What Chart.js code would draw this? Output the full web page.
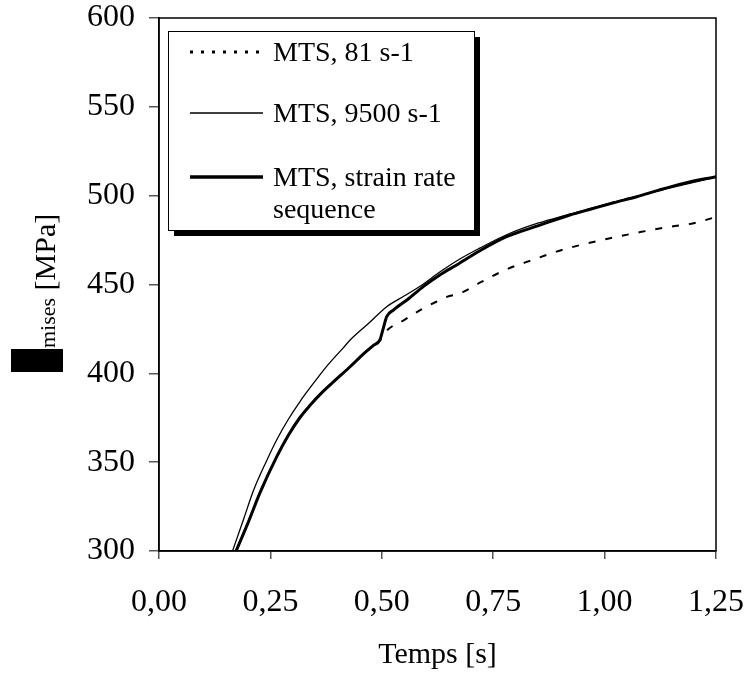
<!DOCTYPE html>
<html>
<head>
<meta charset="utf-8">
<script src="https://cdn.jsdelivr.net/npm/chart.js@4.4.0/dist/chart.umd.min.js"></script>
<style>
    html, body { margin: 0; padding: 0; background: #fff; }
</style>
</head>
<body>
<canvas id="chart" width="746" height="673"></canvas>
<script>
// Temps [s] och spänning [MPa] för varje kurva
const t81 = [0.173, 0.2, 0.227, 0.264, 0.29, 0.316, 0.339, 0.365, 0.395, 0.43, 0.459, 0.48, 0.496, 0.511, 0.55, 0.586, 0.62, 0.646, 0.676, 0.72, 0.78, 0.84, 0.892, 0.945, 1.012, 1.08, 1.147, 1.2, 1.25];
const s81 = [300, 316, 333, 353, 365, 375, 382, 389, 396, 404, 411, 415.5, 418.5, 424, 430, 435.6, 440, 443, 445, 451, 458.5, 464, 468.5, 472.2, 476, 479.5, 482.5, 484.5, 488];

const t9500 = [0.165, 0.19, 0.212, 0.24, 0.264, 0.29, 0.316, 0.35, 0.38, 0.414, 0.43, 0.47, 0.511, 0.55, 0.586, 0.63, 0.676, 0.72, 0.78, 0.85, 0.92, 1.0, 1.07, 1.15, 1.25];
const s9500 = [300, 318, 334, 350, 362.5, 374, 384, 395.5, 405, 414.5, 419, 428, 437.5, 443.5, 449, 457, 464.5, 470.5, 478, 484.5, 489.5, 495, 499.5, 504.5, 510.5];

const tSeq = [0.173, 0.2, 0.227, 0.264, 0.29, 0.316, 0.339, 0.365, 0.395, 0.43, 0.459, 0.48, 0.496, 0.503, 0.511, 0.526, 0.56, 0.593, 0.631, 0.668, 0.72, 0.78, 0.85, 0.922, 0.97, 1.02, 1.072, 1.12, 1.177, 1.25];
const sSeq = [300, 316, 333, 353, 365, 375, 382, 389, 396, 404, 411, 415.5, 419, 425, 431.9, 435.6, 442, 448.8, 455.5, 461, 469, 476.9, 483, 489.1, 492.5, 496, 499.4, 503, 506.9, 510.7];

const seriesLabels = ['MTS, 81 s-1', 'MTS, 9500 s-1', ['MTS, strain rate', 'sequence']];
const xTicks = [0, 0.25, 0.5, 0.75, 1.0, 1.25];
const yTicks = [300, 350, 400, 450, 500, 550, 600];

const serif = "'Liberation Serif', 'Times New Roman', serif";

function toPoints(xs, ys) {
    return xs.map((x, i) => ({ x: x, y: ys[i] }));
}

// Ram runt ritytan (topp och höger kant)
const frame = {
    id: 'frame',
    afterDatasetsDraw(chart) {
        const { ctx, chartArea: a } = chart;
        ctx.save();
        ctx.strokeStyle = '#000';
        ctx.lineWidth = 1.5;
        ctx.strokeRect(a.left, a.top, a.right - a.left, a.bottom - a.top);
        ctx.restore();
    }
};

// Y-axelns titel: sigma (svart ruta), "mises" nedsänkt, sen [MPa]
const yTitle = {
    id: 'yTitle',
    afterDraw(chart) {
        const ctx = chart.ctx;
        ctx.save();
        ctx.fillStyle = '#000';
        ctx.fillRect(11, 349, 52, 23);
        ctx.translate(55, 348);
        ctx.rotate(-Math.PI / 2);
        ctx.textBaseline = 'alphabetic';
        ctx.textAlign = 'left';
        ctx.font = '22px ' + serif;
        ctx.fillText('mises', 0, 0);
        let w = ctx.measureText('mises ').width;
        ctx.font = '30px ' + serif;
        ctx.fillText('[MPa]', w + 2, 0);
        ctx.restore();
    }
};

// Egen legend med skugga
const legendBox = {
    id: 'legendBox',
    afterDraw(chart) {
        const ctx = chart.ctx;
        const x = 168, y = 31, w = 306, h = 199;
        ctx.save();
        ctx.fillStyle = '#000';
        ctx.fillRect(x + 6, y + 6, w, h);
        ctx.fillStyle = '#fff';
        ctx.fillRect(x, y, w, h);
        ctx.strokeStyle = '#000';
        ctx.lineWidth = 1;
        ctx.strokeRect(x + 0.5, y + 0.5, w, h);

        const rows = [52, 113, 177];
        ctx.font = '28px ' + serif;
        chart.data.datasets.forEach((ds, i) => {
            ctx.beginPath();
            ctx.strokeStyle = '#000';
            ctx.lineWidth = i === 2 ? 3.5 : (i === 0 ? 3 : 1.3);
            ctx.setLineDash(i === 0 ? [3, 8] : []);
            ctx.moveTo(190, rows[i]);
            ctx.lineTo(263, rows[i]);
            ctx.stroke();
            ctx.setLineDash([]);
            ctx.fillStyle = '#000';
            ctx.textBaseline = 'middle';
            [].concat(ds.label).forEach((s, j) => {
                ctx.fillText(s, 273, rows[i] + 2 + j * 32);
            });
        });
        ctx.restore();
    }
};

new Chart(document.getElementById('chart'), {
    type: 'line',
    data: {
        datasets: [
            {
                label: seriesLabels[0],
                data: toPoints(t81, s81),
                borderColor: '#000',
                borderWidth: 2,
                borderDash: [7, 10],
                pointRadius: 0,
                cubicInterpolationMode: 'monotone'
            },
            {
                label: seriesLabels[1],
                data: toPoints(t9500, s9500),
                borderColor: '#000',
                borderWidth: 1.3,
                pointRadius: 0,
                cubicInterpolationMode: 'monotone'
            },
            {
                label: seriesLabels[2],
                data: toPoints(tSeq, sSeq),
                borderColor: '#000',
                borderWidth: 3,
                pointRadius: 0,
                cubicInterpolationMode: 'monotone'
            }
        ]
    },
    options: {
        responsive: false,
        animation: false,
        layout: { autoPadding: false, padding: { left: 0, right: 30, top: 18, bottom: 0 } },
        plugins: {
            legend: { display: false },
            tooltip: { enabled: false }
        },
        scales: {
            x: {
                type: 'linear',
                min: 0,
                max: 1.25,
                afterBuildTicks: axis => { axis.ticks = xTicks.map(v => ({ value: v })); },
                afterFit: axis => {
                    axis.height = 122;
                    axis.paddingLeft = 0;
                    axis.paddingRight = 0;
                },
                grid: { drawOnChartArea: false, drawTicks: true, tickLength: 8, color: '#555', lineWidth: 1.5 },
                border: { display: true, color: '#000', width: 1.5 },
                ticks: {
                    color: '#000',
                    padding: 24,
                    maxRotation: 0,
                    font: { family: serif, size: 32 },
                    callback: v => v.toFixed(2).replace('.', ',')
                },
                title: {
                    display: true,
                    text: 'Temps [s]',
                    color: '#000',
                    font: { family: serif, size: 30 },
                    padding: { top: 0, bottom: 0 }
                }
            },
            y: {
                type: 'linear',
                min: 300,
                max: 600,
                afterBuildTicks: axis => { axis.ticks = yTicks.map(v => ({ value: v })); },
                afterFit: axis => {
                    axis.width = 159;
                    axis.paddingTop = 0;
                    axis.paddingBottom = 0;
                },
                grid: { drawOnChartArea: false, drawTicks: true, tickLength: 10, color: '#555', lineWidth: 1.5 },
                border: { display: true, color: '#000', width: 1.5 },
                ticks: {
                    color: '#000',
                    padding: 14,
                    font: { family: serif, size: 32 }
                }
            }
        }
    },
    plugins: [frame, yTitle, legendBox]
});
</script>
</body>
</html>
